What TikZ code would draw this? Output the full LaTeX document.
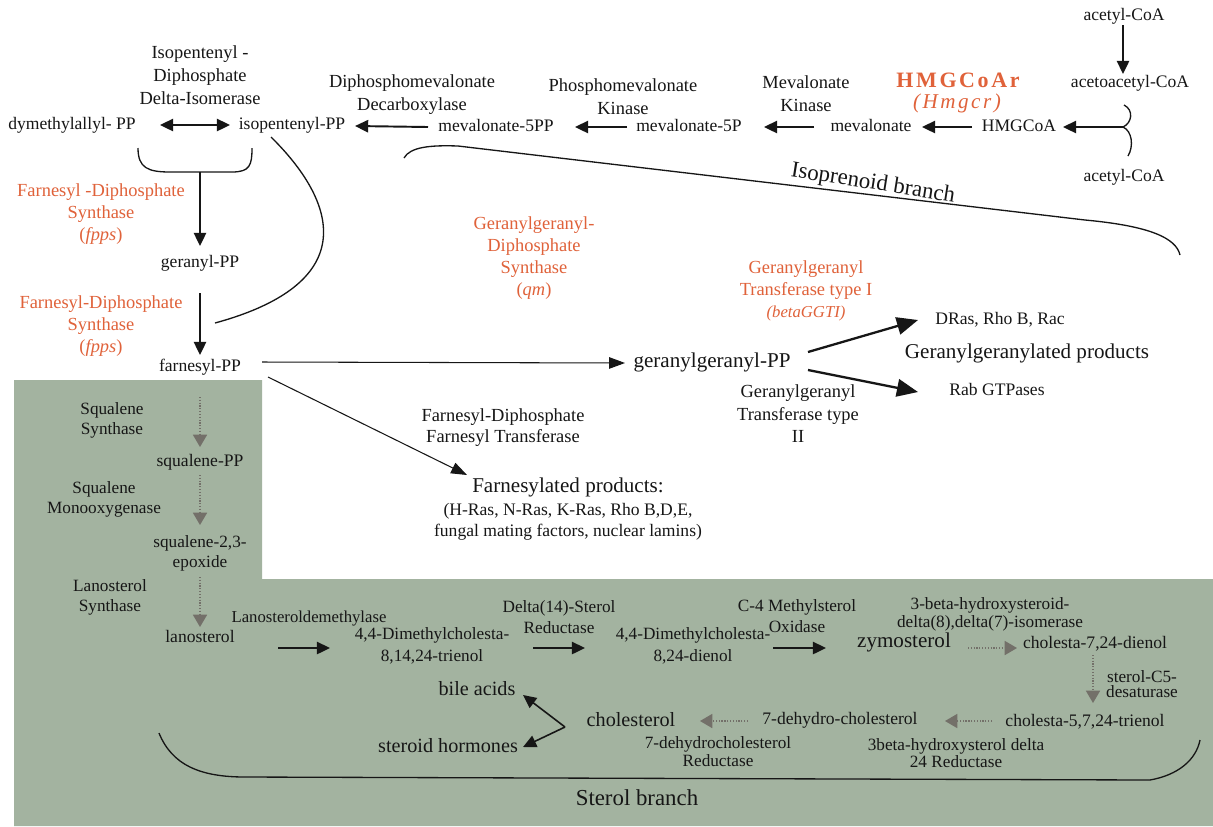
\documentclass[tikz,border=0pt]{standalone}
\usepackage{fontspec}
\setmainfont{Liberation Serif}
\usetikzlibrary{arrows.meta,calc}
\definecolor{org}{RGB}{224,98,58}
\definecolor{grn}{RGB}{163,179,160}
\definecolor{ink}{RGB}{22,22,22}
\definecolor{gry}{RGB}{115,112,105}
\newcommand\fsz[2]{\fontsize{#1}{#2}\selectfont}
\begin{document}
\begin{tikzpicture}[x=0.02cm,y=-0.02cm,
  every node/.style={inner sep=0pt,outer sep=0pt,text=ink,align=center},
  lbl/.style={font=\fsz{10}{12},text height=7pt,text depth=2pt},
  bigl/.style={font=\fsz{12}{14},text height=8.4pt,text depth=2.4pt},
  enz/.style={font=\fsz{10.5}{13}},
  orgl/.style={font=\fsz{10.5}{12.4},text=org},
  gz/.style={font=\fsz{9.8}{11.3}},
  arr/.style={draw=ink,line width=1.1pt,-{Triangle[length=7.5pt,width=7pt]}},
  darr/.style={draw=ink,line width=1.1pt,{Triangle[length=7.5pt,width=7pt]}-{Triangle[length=7.5pt,width=7pt]}},
  thinarr/.style={draw=ink,line width=0.6pt,-{Triangle[length=9pt,width=6.5pt]}},
  bigarr/.style={draw=ink,line width=1.3pt,-{Triangle[length=12pt,width=10pt]}},
  dotarr/.style={draw=gry,line width=0.8pt,dash pattern=on 0.7pt off 0.9pt,-{Triangle[length=7pt,width=8pt,fill=gry]}},
  curve/.style={draw=ink,line width=0.75pt},
]
\useasboundingbox (0,0) rectangle (1213,826);
\fill[white] (0,0) rectangle (1213,826);
\fill[grn] (14,380) -- (262,380) -- (262,579) -- (1213,579) -- (1213,826) -- (14,826) -- cycle;

% ---------- mevalonate pathway ----------
\node[lbl] (acoa1) at (1124,16) {acetyl-CoA};
\node[lbl] (acac) at (1130,83) {acetoacetyl-CoA};
\node[lbl] (acoa2) at (1124,177) {acetyl-CoA};
\node[lbl] (hmgcoa) at (1019,127) {HMGCoA};
\node[font={\fsz{12.5}{14}\bfseries\addfontfeature{LetterSpace=12}},text=org] (hmgr) at (958,80) {HMGCoAr};
\node[font={\fsz{12}{14}\itshape\addfontfeature{LetterSpace=12}},text=org] (hmgr2) at (957,103) {(Hmgcr)};
\node[lbl] (mev) at (871,127) {mevalonate};
\node[enz] (mevk) at (806,94) {Mevalonate\\Kinase};
\node[lbl] (mev5p) at (689,127) {mevalonate-5P};
\node[enz] (pmk) at (623,97) {Phosphomevalonate\\Kinase};
\node[lbl] (mev5pp) at (496,127) {mevalonate-5PP};
\node[enz] (dmd) at (412,95) {Diphosphomevalonate\\Decarboxylase};
\node[lbl] (ipp) at (292,125) {isopentenyl-PP};
\node[lbl] (dmapp) at (72,125) {dymethylallyl- PP};
\node[enz] (idi) at (200,75) {{Isopentenyl~-}\\Diphosphate\\Delta-Isomerase};

\node[lbl] (gpp) at (200,263) {geranyl-PP};
\node[orgl] (fpps1) at (101,214) {Farnesyl -Diphosphate\\Synthase\\(\textit{fpps})};
\node[orgl] (fpps2) at (101,326) {Farnesyl-Diphosphate\\Synthase\\(\textit{fpps})};
\node[lbl] (fpp) at (200,367) {farnesyl-PP};

\node[orgl] (ggps) at (534,258) {Geranylgeranyl-\\Diphosphate\\Synthase\\(\textit{qm})};
\node[bigl] (ggpp) at (712,362) {geranylgeranyl-PP};
\node[orgl] (ggt1) at (806,291) {Geranylgeranyl\\Transferase type I\\{\fsz{9.5}{11}\itshape(betaGGTI)}};
\node[lbl] (dras) at (1000,320) {DRas, Rho B, Rac};
\node[bigl] (ggprod) at (1027,353) {Geranylgeranylated products};
\node[lbl] (rab) at (997,391) {Rab GTPases};
\node[font=\fsz{10.5}{12.8}] (ggt2) at (798,414) {Geranylgeranyl\\Transferase type\\II};

\node[font=\fsz{10.5}{12}] (ftase) at (503,428) {Farnesyl-Diphosphate\\Farnesyl Transferase};
\node[bigl] (fprod) at (568,487) {Farnesylated products:};
\node[font=\fsz{10}{12}] (fprod2) at (568,522) {(H-Ras, N-Ras, K-Ras, Rho B,D,E,\\fungal mating factors, nuclear lamins)};

% ---------- sterol branch ----------
\node[gz] (sqs) at (112,420) {Squalene\\Synthase};
\node[lbl] (sqpp) at (200,462) {squalene-PP};
\node[gz] (sqm) at (104,499) {Squalene\\Monooxygenase};
\node[gz] (sqep) at (200,553) {squalene-2,3-\\epoxide};
\node[gz] (lss) at (110,597) {Lanosterol\\Synthase};
\node[lbl] (lan) at (200,638) {lanosterol};
\node[font=\fsz{9.5}{11},text height=6.7pt,text depth=2pt] (ldm) at (309,618) {Lanosteroldemethylase};
\node[font=\fsz{9.8}{12.4}] (dmc1) at (432,646) {4,4-Dimethylcholesta-\\8,14,24-trienol};
\node[font=\fsz{9.8}{11.8}] (d14) at (559,617) {Delta(14)-Sterol\\Reductase};
\node[font=\fsz{9.8}{12.4}] (dmc2) at (693,646) {4,4-Dimethylcholesta-\\8,24-dienol};
\node[font=\fsz{9.8}{11.8}] (c4) at (797,616) {C-4 Methylsterol\\Oxidase};
\node[bigl] (zymo) at (904,642) {zymosterol};
\node[font=\fsz{9.8}{10.2}] (hsd) at (990,614) {3-beta-hydroxysteroid-\\delta(8),delta(7)-isomerase};
\node[lbl] (c724) at (1095,644) {cholesta-7,24-dienol};
\node[font=\fsz{9.8}{8.8}] (c5) at (1142,684) {sterol-C5-\\desaturase};
\node[lbl] (c5724) at (1085,722) {cholesta-5,7,24-trienol};
\node[font=\fsz{9.8}{9.8}] (hsr) at (956,753) {3beta-hydroxysterol delta\\24 Reductase};
\node[lbl] (dhc) at (840,720) {7-dehydro-cholesterol};
\node[font=\fsz{9.8}{10.2}] (dhcr) at (718,752) {7-dehydrocholesterol\\Reductase};
\node[font=\fsz{11.5}{13},text height=8pt,text depth=2.3pt] (chol) at (631,721) {cholesterol};
\node[font=\fsz{11.5}{13},text height=8pt,text depth=2.3pt] (bile) at (477,690) {bile acids};
\node[font=\fsz{11.5}{13},text height=8pt,text depth=2.3pt] (ster) at (448,747) {steroid hormones};
\node[font=\fsz{13}{15}] (sbr) at (637,798) {Sterol branch};
\node[font=\fsz{13}{15},rotate=-9] (ibr) at (873,184) {Isoprenoid branch};

% ---------- braces / curves ----------
\coordinate (cusp) at (1123,127);
\draw[curve] (1124,105) .. controls (1134,110) and (1132,123) .. (cusp)
  .. controls (1132,131) and (1134,146) .. (1128,156);
\coordinate (bbl) at (138,148);
\coordinate (bb) at (200,172);
\coordinate (bbr) at (252,148);
\draw[curve] (bbl) .. controls (138,168) and (148,172) .. (170,172) -- (bb) -- (232,172)
  .. controls (250,172) and (252,165) .. (bbr);
\coordinate (cs) at (271,137);
\coordinate (ce) at (215,323);
\draw[curve] (cs) .. controls (335,200) and (365,282) .. (ce);
\coordinate (ib1) at (404,158);
\coordinate (ib2) at (1180,255);
\draw[curve] (ib1) .. controls (410,147) and (430,145) .. (458,146) -- (1085,220)
  .. controls (1150,226) and (1176,238) .. (ib2);
\coordinate (sb1) at (159,733);
\coordinate (sb2) at (1200,740);
\draw[curve] (sb1) .. controls (172,765) and (200,777) .. (245,777) -- (1150,780)
  .. controls (1178,775) and (1196,760) .. (sb2);
\coordinate (v) at (565,727);

% ---------- arrows ----------
\draw[arr] ($(acoa1)+(-1,9)$) -- ($(acac)+(-7,-9)$);
\draw[arr] (cusp) -- ($(hmgcoa)+(44,0)$);
\draw[arr] ($(hmgcoa)+(-47,0)$) -- ($(mev)+(51,0)$);
\draw[arr] ($(mev)+(-57,0)$) -- ($(mev5p)+(75,0)$);
\draw[arr] ($(mev5p)+(-62,0)$) -- ($(mev5pp)+(79,0)$);
\draw[arr] ($(mev5pp)+(-68,0)$) -- ($(ipp)+(63,1)$);
\draw[darr] ($(ipp)+(-62,0)$) -- ($(dmapp)+(88,0)$);
\draw[arr] (bb) -- ($(gpp)+(0,-17)$);
\draw[arr] ($(gpp)+(0,30)$) -- ($(fpp)+(0,-12)$);
\draw[thinarr] ($(fpp)+(62,-5)$) -- ($(ggpp)+(-87,1)$);
\draw[thinarr] ($(fpp)+(68,10)$) -- ($(fprod)+(-101,-12)$);
\draw[bigarr] ($(ggpp)+(96,-10)$) -- ($(dras)+(-82,0)$);
\draw[bigarr] ($(ggpp)+(96,8)$) -- ($(rab)+(-79,1)$);

\draw[dotarr] ($(fpp)+(0,30)$) -- ($(sqpp)+(0,-15)$);
\draw[dotarr] ($(sqpp)+(0,13)$) -- ($(sqep)+(0,-28)$);
\draw[dotarr] ($(sqep)+(0,24)$) -- ($(lan)+(0,-11)$);
\draw[arr] ($(lan)+(78,10)$) -- ($(dmc1)+(-102,2)$);
\draw[arr] ($(dmc1)+(101,2)$) -- ($(dmc2)+(-108,2)$);
\draw[arr] ($(dmc2)+(80,2)$) -- ($(zymo)+(-78,6)$);
\draw[dotarr] ($(zymo)+(64,6)$) -- ($(c724)+(-78,4)$);
\draw[dotarr] ($(c724)+(-2,11)$) -- ($(c5724)+(8,-19)$);
\draw[dotarr] ($(c5724)+(-93,-1)$) -- ($(dhc)+(105,1)$);
\draw[dotarr] ($(dhc)+(-92,1)$) -- ($(chol)+(69,0)$);
\draw[arr,line width=0.9pt] (v) -- ($(bile)+(46,5)$);
\draw[arr,line width=0.9pt] (v) -- ($(ster)+(75,0)$);
\end{tikzpicture}
\end{document}
